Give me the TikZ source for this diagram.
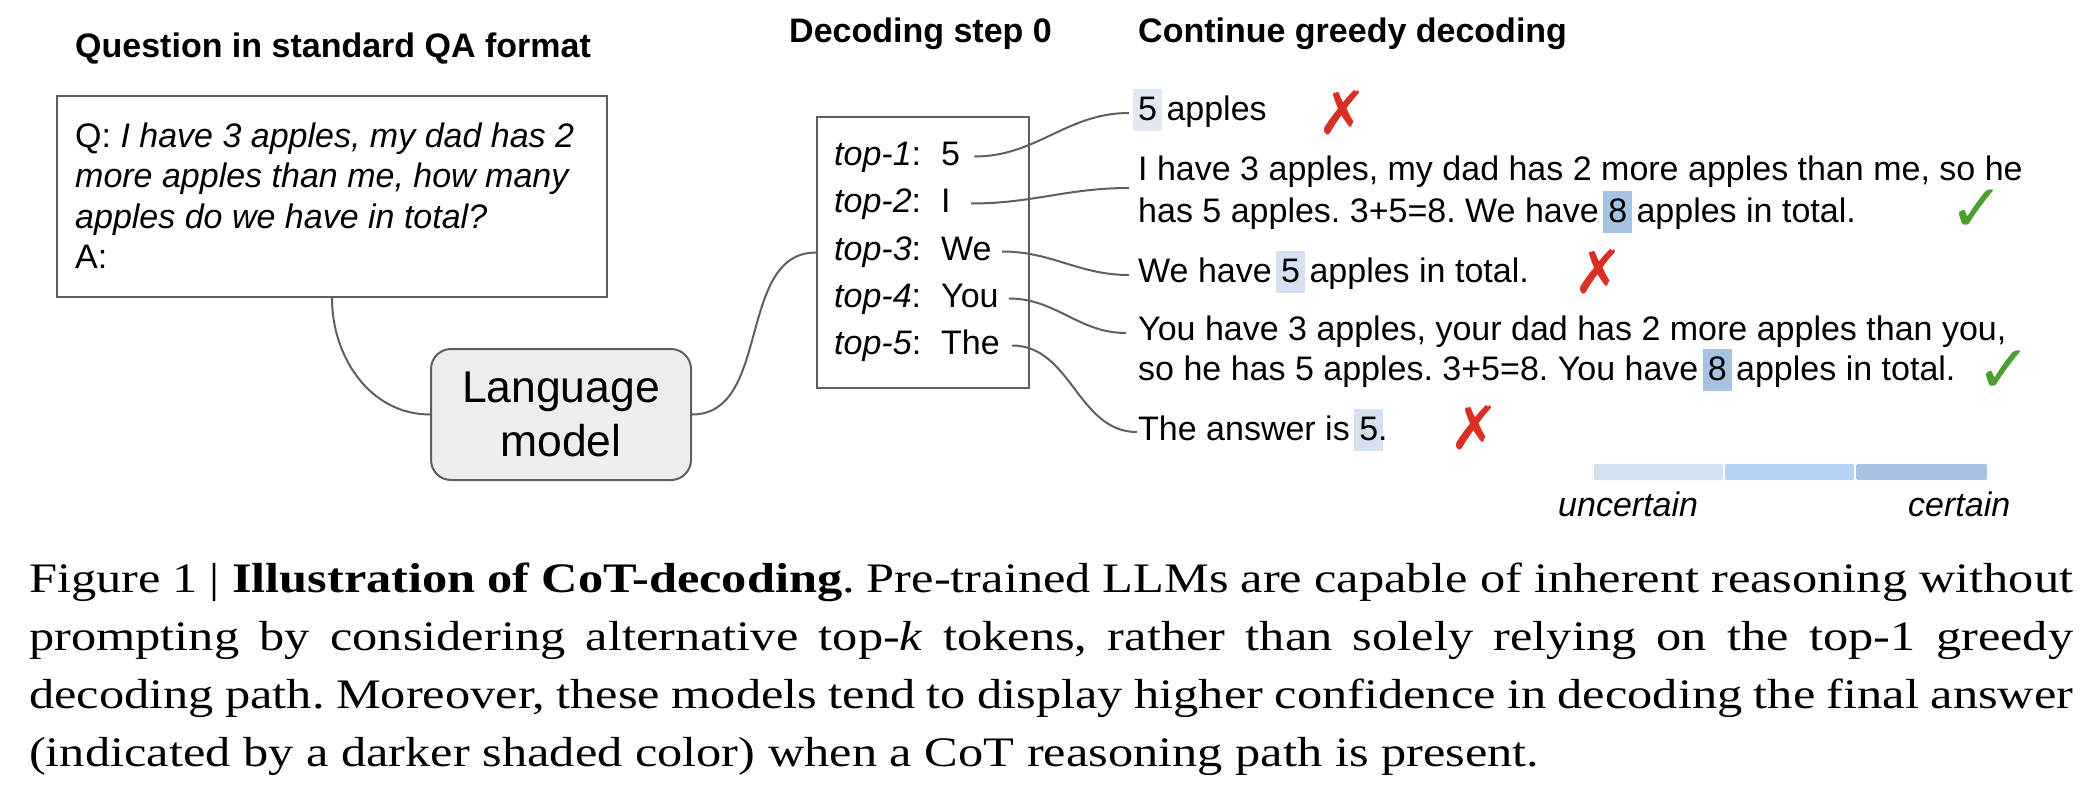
\documentclass[tikz,border=0pt]{standalone}
\usepackage{fontspec}
\setmainfont{Liberation Sans}
\newfontfamily\capfont[FakeStretch=1.2]{Liberation Serif}
\newfontfamily\markfont{DejaVu Sans}
\usetikzlibrary{positioning}
\frenchspacing

\definecolor{linegray}{HTML}{5F5F5F}
\definecolor{boxgray}{HTML}{EEEEEE}
\definecolor{hlfaint}{HTML}{E1E8F1}
\definecolor{hllight}{HTML}{D5E1F1}
\definecolor{hlmid}{HTML}{B5D4F5}
\definecolor{hldark}{HTML}{A7C3E4}
\definecolor{wrongred}{HTML}{D93025}
\definecolor{rightgreen}{HTML}{4A9F2F}

% shaded token behind the text
\newlength\hlwd
\newcommand{\hl}[2]{\settowidth{\hlwd}{#2}\makebox[0pt][l]{\hspace{-5pt}\textcolor{#1}{\rule[-11pt]{\dimexpr\hlwd+10pt\relax}{42pt}}}#2}

\tikzset{
  frame/.style={draw=linegray, line width=2pt},
  link/.style={draw=linegray, line width=2pt},
  body/.style={anchor=base west, inner sep=0pt, align=left},
  title/.style={body, font=\fontsize{34}{41}\selectfont\bfseries},
  tok/.style={body, text height=17pt, text depth=0pt},
  badmark/.style={text=wrongred, inner sep=0pt, font=\markfont\fontsize{60}{60}\selectfont},
  okmark/.style={text=rightgreen, inner sep=0pt, font=\markfont\fontsize{66}{66}\selectfont},
}

\begin{document}
\begin{tikzpicture}[x=1pt, y=-1pt, font=\fontsize{34}{41}\selectfont]
    \useasboundingbox (0,0) rectangle (2090,808);

    % headings
    \node[title] (qtitle) at (75,58) {Question in standard QA format};
    \node[title] (dtitle) at (789,43) {Decoding step 0};
    \node[title] (ctitle) at (1138,43) {Continue greedy decoding};

    % question and model (base = last line)
    \node[frame, minimum width=550pt, minimum height=201pt] (qbox) at (332,196.5) {};
    \node[body, font=\fontsize{34}{40.5}\selectfont] (qtext) at (75,268.5)
        {Q: \textit{I have 3 apples, my dad has 2}\\\textit{more apples than me, how many}\\\textit{apples do we have in total?}\\A:};
    \node[frame, fill=boxgray, rounded corners=20pt, minimum width=260pt, minimum height=131pt,
          align=center, font=\fontsize{44.5}{54}\selectfont] (lm) at (561,414.5) {Language\\model};
    \draw[link] (qbox.south) to[out=-90, in=180] (lm.west);

    % step 0 candidates
    \node[frame, minimum width=212pt, minimum height=271pt] (dec) at (923,252.5) {};
    \draw[link] (lm.east) to[out=0, in=180] (dec.west);
    \foreach \i/\t/\y in {1/5/165, 2/I/212, 3/We/260, 4/You/307, 5/The/354} {
        \node[body] (k\i) at (834,\y) {\textit{top-\i}:};
        \node[tok] (t\i) at (941,\y) {\t};
    }

    % greedy continuations
    \node[body] (a1) at (1138,120) {\hl{hlfaint}{5} apples};
    \node[body, font=\fontsize{34}{42}\selectfont] (a2) at (1138,222)
        {I have 3 apples, my dad has 2 more apples than me, so he\\has 5 apples. 3+5=8. We have \hl{hldark}{8} apples in total.};
    \node[body] (a3) at (1138,282) {We have \hl{hllight}{5} apples in total.};
    \node[body, font=\fontsize{34}{40}\selectfont] (a4) at (1138,380)
        {You have 3 apples, your dad has 2 more apples than you,\\so he has 5 apples. 3+5=8. You have \hl{hldark}{8} apples in total.};
    \node[body] (a5) at (1138,440) {The answer is \hl{hllight}{5}.};

    \draw[link] ([xshift=14pt]t1.east) to[out=0, in=180] ([xshift=-9pt, yshift=7pt]a1.base west);
    \draw[link] ([xshift=20pt]t2.east) to[out=0, in=180] ([xshift=-9pt, yshift=34pt]a2.base west);
    \draw[link] ([xshift=10pt]t3.east) to[out=0, in=180] ([xshift=-9pt, yshift=7pt]a3.base west);
    \draw[link] ([xshift=10pt]t4.east) to[out=0, in=180] ([xshift=-12pt, yshift=47pt]a4.base west);
    \draw[link] ([xshift=12pt]t5.east) to[out=0, in=180] ([xshift=-1pt, yshift=8pt]a5.base west);

    \node[badmark] (x1) at (1343,113) {✗};
    \node[okmark] (c2) at (1977,211) {✓};
    \node[badmark] (x3) at (1599,272) {✗};
    \node[okmark] (c4) at (2004,372) {✓};
    \node[badmark] (x5) at (1475,428) {✗};

    % confidence scale
    \fill[hllight, rounded corners=2pt] (1594,464) rectangle (1723,480);
    \fill[hlmid, rounded corners=2pt] (1725,464) rectangle (1854,480);
    \fill[hldark, rounded corners=2pt] (1856,464) rectangle (1987,480);
    \node[body] (unc) at (1558,516) {\textit{uncertain}};
    \node[body] (cer) at (1908,516) {\textit{certain}};

    % caption
    \node[anchor=base west, inner sep=0pt, text width=2044pt, align=justify,
          font=\capfont\fontsize{42}{58}\selectfont] (caption) at (29,592)
        {Figure 1 | \textbf{Illustration of CoT-decoding}. Pre-trained LLMs are capable of inherent reasoning without\linebreak
         prompting by considering alternative top-\textit{k} tokens, rather than solely relying on the top-1 greedy\linebreak
         decoding path. Moreover, these models tend to display higher confidence in decoding the final answer\linebreak
         (indicated by a darker shaded color) when a CoT reasoning path is present.};
\end{tikzpicture}
\end{document}
